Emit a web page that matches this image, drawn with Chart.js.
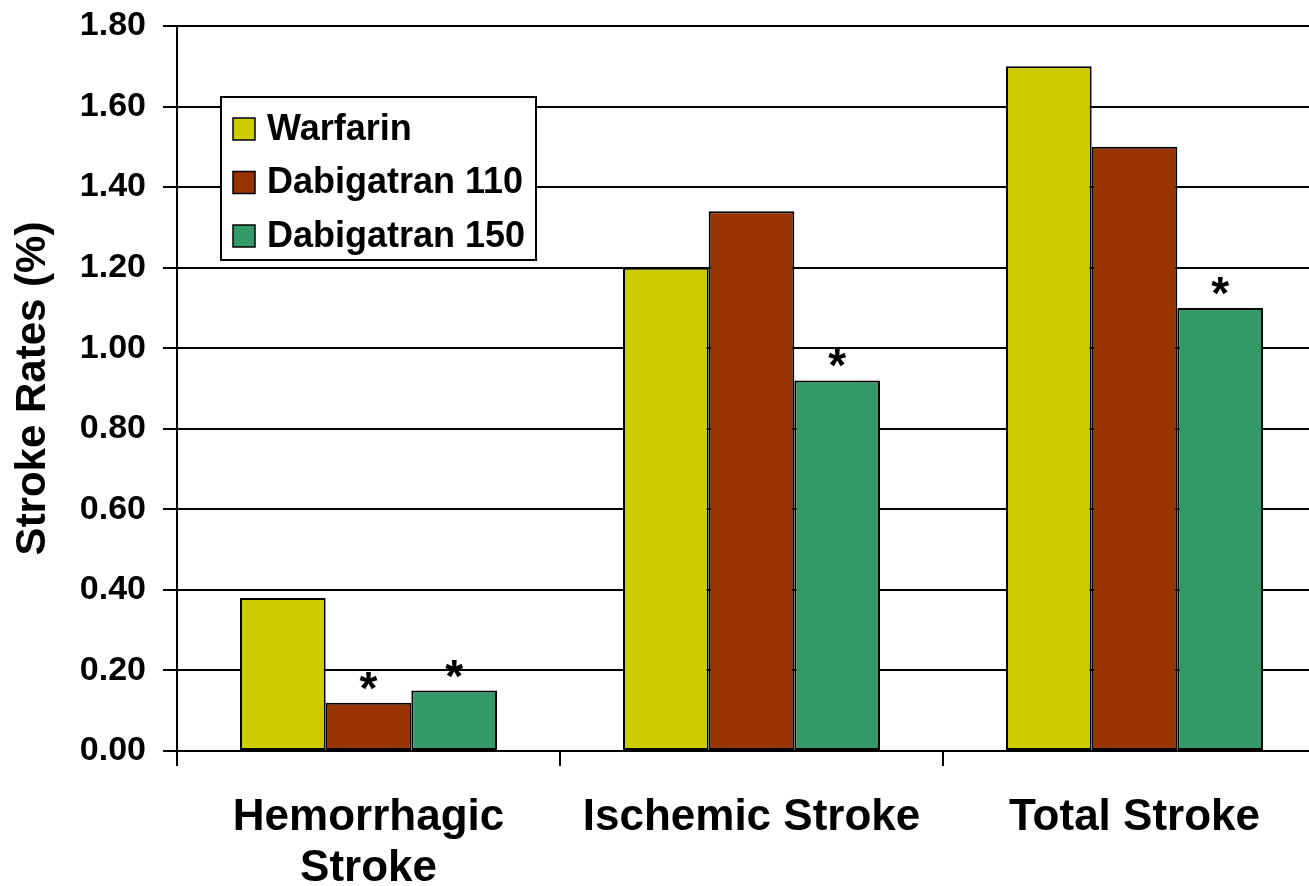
<!DOCTYPE html>
<html>
<head>
<meta charset="utf-8">
<script src="https://cdn.jsdelivr.net/npm/chart.js@4.4.1/dist/chart.umd.min.js"></script>
<style>
  html, body { margin: 0; padding: 0; overflow: hidden; background: #ffffff; width: 1309px; height: 886px; }
  #wrap { position: relative; width: 1328px; height: 886px; }
  canvas { display: block; }
</style>
</head>
<body>
<div id="wrap"><canvas id="chart" width="1328" height="886"></canvas></div>
<script>
// ---- data ----
const categories = [["Hemorrhagic", "Stroke"], "Ischemic Stroke", "Total Stroke"];
const seriesNames = ["Warfarin", "Dabigatran 110", "Dabigatran 150"];
const warfarin = [0.38, 1.20, 1.70];
const dabigatran110 = [0.12, 1.34, 1.50];
const dabigatran150 = [0.15, 0.92, 1.10];
// significance markers (*) per series
const sigWarfarin = [false, false, false];
const sig110 = [true, false, false];
const sig150 = [true, true, true];
const yMin = 0, yMax = 1.8, yStep = 0.2;
const yTitle = "Stroke Rates (%)";

const colors = ["#CCCC00", "#993300", "#339966"];
const FONT = "'Liberation Sans', Arial, Helvetica, sans-serif";

const seriesValues = [warfarin, dabigatran110, dabigatran150];
const seriesSig = [sigWarfarin, sig110, sig150];

const datasets = seriesNames.map((name, i) => ({
  label: name,
  data: seriesValues[i],
  sig: seriesSig[i],
  backgroundColor: colors[i],
  borderColor: "#000000",
  borderWidth: 2,
  borderSkipped: false,
  categoryPercentage: 0.671,
  barPercentage: 1.0
}));

const asteriskPlugin = {
  id: "asterisks",
  afterDatasetsDraw(chart) {
    const ctx = chart.ctx;
    ctx.save();
    ctx.fillStyle = "#000";
    ctx.font = "bold 46px " + FONT;
    ctx.textAlign = "center";
    ctx.textBaseline = "alphabetic";
    chart.data.datasets.forEach((ds, di) => {
      const meta = chart.getDatasetMeta(di);
      meta.data.forEach((bar, i) => {
        if (ds.sig && ds.sig[i]) {
          ctx.fillText("*", bar.x, bar.y + 1);
        }
      });
    });
    ctx.restore();
  }
};

const boxLegendPlugin = {
  id: "boxLegend",
  afterDraw(chart) {
    const ctx = chart.ctx;
    const a = chart.chartArea;
    const x0 = a.left + 44, y0 = a.top + 71, w = 315, h = 163;
    ctx.save();
    ctx.fillStyle = "#fff";
    ctx.fillRect(x0, y0, w, h);
    ctx.strokeStyle = "#000";
    ctx.lineWidth = 2;
    ctx.strokeRect(x0, y0, w, h);
    ctx.font = "bold 36px " + FONT;
    ctx.textBaseline = "middle";
    ctx.textAlign = "left";
    chart.data.datasets.forEach((ds, i) => {
      const cy = y0 + 32 + i * 53.5;
      ctx.fillStyle = ds.backgroundColor;
      ctx.fillRect(x0 + 12, cy - 11, 22, 22);
      ctx.lineWidth = 1.5;
      ctx.strokeStyle = "#000";
      ctx.strokeRect(x0 + 12, cy - 11, 22, 22);
      ctx.fillStyle = "#000";
      ctx.fillText(ds.label, x0 + 46, cy + 1);
    });
    ctx.restore();
  }
};

new Chart(document.getElementById("chart"), {
  type: "bar",
  data: { labels: categories, datasets },
  options: {
    responsive: false,
    animation: false,
    devicePixelRatio: 1,
    layout: { padding: { top: 26, right: 2, bottom: 0, left: 0 } },
    plugins: { legend: { display: false }, tooltip: { enabled: false } },
    scales: {
      x: {
        grid: { display: true, drawOnChartArea: false, drawTicks: true, tickLength: 15, color: "#000", lineWidth: 2, offset: true },
        border: { display: true, color: "#000", width: 2 },
        ticks: { color: "#000", font: { family: FONT, size: 44, weight: "bold", lineHeight: 1.17 }, padding: 26, maxRotation: 0, minRotation: 0, autoSkip: false },
        afterFit(scale) { scale.height = 135; scale.paddingLeft = 0; scale.paddingRight = 0; }
      },
      y: {
        min: yMin, max: yMax,
        grid: { color: "#000", lineWidth: 2, drawTicks: true, tickLength: 14 },
        border: { display: true, color: "#000", width: 2 },
        ticks: { stepSize: yStep, color: "#000", padding: 17, font: { family: FONT, size: 34, weight: "bold" }, callback: v => Number(v).toFixed(2) },
        title: { display: true, text: yTitle, color: "#000", font: { family: FONT, size: 42, weight: "bold", lineHeight: 1.2 }, padding: { top: 8, bottom: 0 } },
        afterFit(scale) { scale.width = 177; scale.paddingTop = 0; scale.paddingBottom = 0; }
      }
    }
  },
  plugins: [asteriskPlugin, boxLegendPlugin]
});
</script>
</body>
</html>
